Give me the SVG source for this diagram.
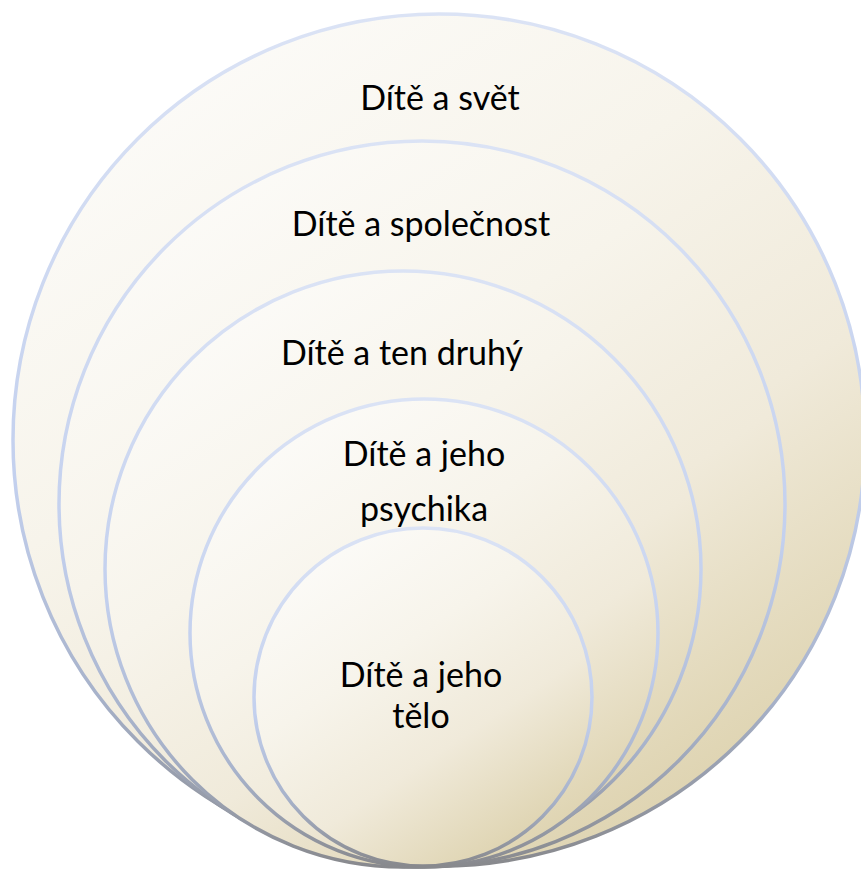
<svg xmlns="http://www.w3.org/2000/svg" width="861" height="870" viewBox="0 0 861 870">
  <defs>
    <linearGradient id="fillG" x1="0.2" y1="0.05" x2="0.8" y2="0.95">
      <stop offset="0" stop-color="#fcfbf8"/>
      <stop offset="0.35" stop-color="#f7f4eb"/>
      <stop offset="0.65" stop-color="#f0eada"/>
      <stop offset="1" stop-color="#ddd2ae"/>
    </linearGradient>
    <linearGradient id="strokeG" x1="0" y1="0" x2="0" y2="1">
      <stop offset="0" stop-color="#dbe3f5"/>
      <stop offset="0.55" stop-color="#c3d0ee"/>
      <stop offset="0.8" stop-color="#a7b2ca"/>
      <stop offset="1" stop-color="#88898d"/>
    </linearGradient>
    <style>
      .ring { fill: url(#fillG); stroke: url(#strokeG); stroke-width: 3.5; }
      .lbl { font-family: "Lato", "Noto Sans", "Liberation Sans", sans-serif; font-size: 34px; fill: #000; text-anchor: middle; }
    </style>
  </defs>
  <g id="node-svet">
    <circle class="ring" cx="439" cy="440" r="426"/>
    <text class="lbl" x="440" y="110">Dítě a svět</text>
  </g>
  <g id="node-spolecnost">
    <circle class="ring" cx="422" cy="504" r="363"/>
    <text class="lbl" x="421" y="236">Dítě a společnost</text>
  </g>
  <g id="node-druhy">
    <circle class="ring" cx="403" cy="569" r="298"/>
    <text class="lbl" x="402" y="365">Dítě a ten druhý</text>
  </g>
  <g id="node-psychika">
    <circle class="ring" cx="424" cy="633" r="234"/>
    <text class="lbl" x="424" y="466">Dítě a jeho</text>
    <text class="lbl" x="424" y="521">psychika</text>
  </g>
  <g id="node-telo">
    <circle class="ring" cx="423" cy="697" r="169"/>
    <text class="lbl" x="421" y="687">Dítě a jeho</text>
    <text class="lbl" x="421" y="728">tělo</text>
  </g>
  <g id="connectors"></g>
</svg>
